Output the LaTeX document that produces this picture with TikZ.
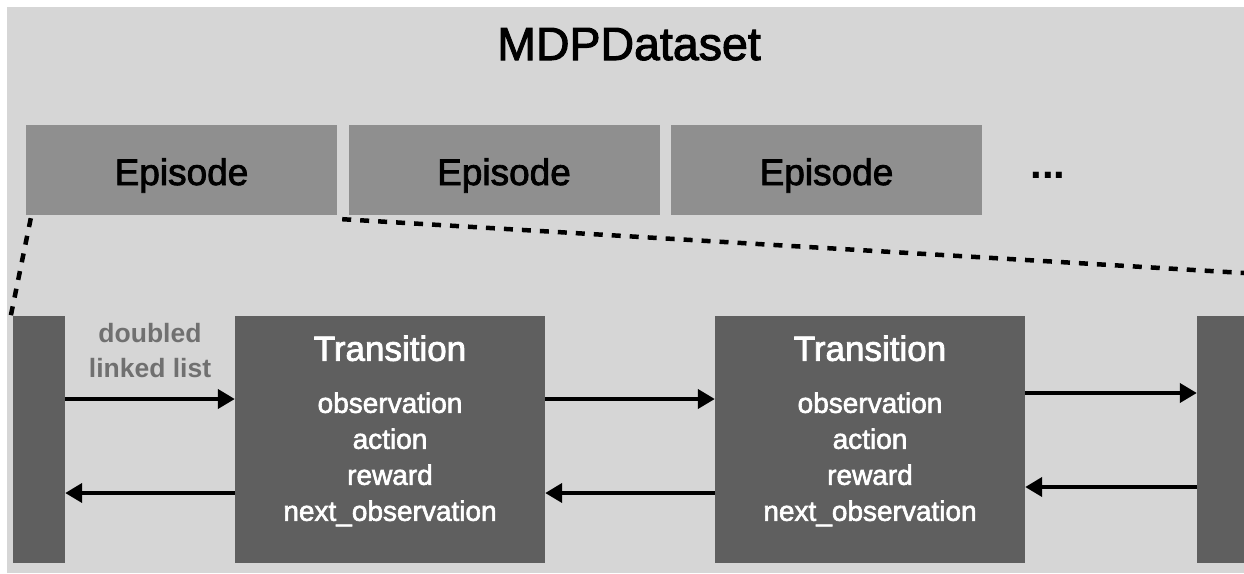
\documentclass[tikz,border=0pt]{standalone}
\usepackage{fontspec}
\setmainfont{Liberation Sans}
\newfontfamily\medfont[FakeBold=2.2]{Liberation Sans}
\usetikzlibrary{arrows.meta,calc}

\definecolor{canvas}{HTML}{D6D6D6}
\definecolor{epfill}{HTML}{8F8F8F}
\definecolor{trfill}{HTML}{5F5F5F}
\definecolor{notegray}{HTML}{707070}

\tikzset{
  episode/.style={fill=epfill, draw=none, minimum width=311pt, minimum height=90pt, inner sep=0pt},
  trans/.style={fill=trfill, draw=none, minimum height=247pt, inner sep=0pt},
  eptext/.style={font=\medfont\fontsize{37}{40}\selectfont, text=black, anchor=base, inner sep=0pt},
  trtitle/.style={font=\medfont\fontsize{35}{40}\selectfont, text=white, anchor=base, inner sep=0pt},
  tritem/.style={font=\medfont\fontsize{28}{32}\selectfont, text=white, anchor=base, inner sep=0pt},
  note/.style={font=\bfseries\fontsize{26.5}{30}\selectfont, text=notegray, anchor=base, inner sep=0pt},
  link/.style={line width=4pt, -{Triangle[length=17pt,width=19pt]}},
  zoomline/.style={line width=4.5pt, dash pattern=on 9pt off 9pt},
}

\begin{document}
\begin{tikzpicture}[x=1pt, y=-1pt]
  \useasboundingbox (0,0) rectangle (1244,573);
  \fill[white] (0,0) rectangle (1244,573);
  \fill[canvas] (7,7) rectangle (1244,573);

  % title
  \node[font=\medfont\fontsize{46.5}{52}\selectfont, anchor=base, inner sep=0pt] (title) at (629,60) {MDPDataset};

  % episodes
  \node[episode] (ep1) at (181.5,170) {};
  \node[episode] (ep2) at (504,170) {};
  \node[episode] (ep3) at (826.5,170) {};
  \foreach \e in {ep1,ep2,ep3}
    \node[eptext] at ($(\e.center)+(0,15)$) {Episode};
  \node[font=\bfseries\fontsize{42}{44}\selectfont, anchor=base, inner sep=0pt] (more) at (1048,178) {...};

  % transitions of one episode
  \node[trans, minimum width=52pt] (prev) at (39,439.5) {};
  \node[trans, minimum width=310pt] (t1) at (390,439.5) {};
  \node[trans, minimum width=310pt] (t2) at (870,439.5) {};
  \node[trans, minimum width=47pt] (next) at (1220.5,439.5) {};

  \foreach \t in {t1,t2} {
    \node[trtitle] at ($(\t.north)+(0,45)$) {Transition};
    \node[tritem] at ($(\t.north)+(0,97)$) {observation};
    \node[tritem] at ($(\t.north)+(0,133)$) {action};
    \node[tritem] at ($(\t.north)+(0,169)$) {reward};
    \node[tritem] at ($(\t.north)+(0,205)$) {next\_observation};
  }

  % zoom lines from the first episode
  \coordinate (zr) at (1244,273);
  \draw[zoomline] ($(ep1.south west)+(5,3)$) -- ($(prev.north west)+(-2,0)$);
  \draw[zoomline] ($(ep1.south east)+(5,4)$) -- (zr);

  % links
  \node[note] (n1) at (150,342) {doubled};
  \node[note] (n2) at (150,377) {linked list};
  \draw[link] (prev.east |- 0,399) -- (t1.west |- 0,399);
  \draw[link] (t1.west |- 0,493) -- (prev.east |- 0,493);
  \draw[link] (t1.east |- 0,399) -- (t2.west |- 0,399);
  \draw[link] (t2.west |- 0,493) -- (t1.east |- 0,493);
  \draw[link] (t2.east |- 0,393) -- (next.west |- 0,393);
  \draw[link] (next.west |- 0,487) -- (t2.east |- 0,487);
\end{tikzpicture}
\end{document}
